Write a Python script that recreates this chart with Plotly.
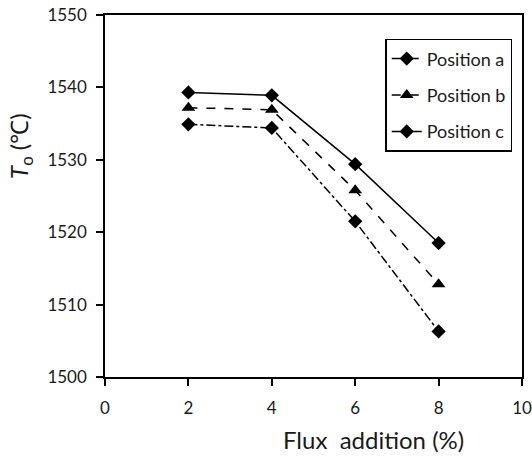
import plotly.graph_objects as go

flux = [2, 4, 6, 8]
pos_a = [1534.9, 1534.4, 1521.5, 1506.3]
pos_b = [1537.2, 1536.9, 1525.8, 1512.8]
pos_c = [1539.3, 1538.9, 1529.4, 1518.5]
names = ["Position a", "Position b", "Position c"]
x_ticks = [0, 2, 4, 6, 8, 10]
y_ticks = [1500, 1510, 1520, 1530, 1540, 1550]

FONT = "Lato"
TXT = "#1a1a1a"
fig = go.Figure()
fig.add_trace(go.Scatter(x=flux, y=pos_a, name=names[0], mode="lines+markers", legendgroup="a",
                         line=dict(color="black", width=1.5, dash="dashdot"),
                         marker=dict(symbol="diamond", size=11, color="black")))
fig.add_trace(go.Scatter(x=flux, y=pos_b, name=names[1], mode="lines+markers", legendgroup="b",
                         line=dict(color="black", width=1.5, dash="dash"),
                         marker=dict(symbol="triangle-up", size=12, color="black")))
fig.add_trace(go.Scatter(x=flux, y=pos_c, name=names[2], mode="lines+markers", legendgroup="c",
                         line=dict(color="black", width=1.5),
                         marker=dict(symbol="diamond", size=11, color="black")))

axis_common = dict(showline=True, linecolor="black", linewidth=1.5, mirror=True,
                   ticks="outside", ticklen=7, tickwidth=1.5, tickcolor="black",
                   showgrid=False, zeroline=False, automargin=False,
                   tickfont=dict(family=FONT, size=17, color=TXT))
fig.update_xaxes(range=[0, 10], tickvals=x_ticks, ticklabelstandoff=8, **axis_common)
fig.update_yaxes(range=[1500, 1550], tickvals=y_ticks, ticklabelstandoff=6, **axis_common)

fig.add_annotation(text="Flux  addition (%)", showarrow=False,
                   xref="paper", yref="paper", x=0.643, y=-0.174,
                   xanchor="center", yanchor="middle",
                   font=dict(family=FONT, size=24, color=TXT))
fig.add_annotation(text="<i>T</i><sub>o</sub> (℃)", textangle=-90, showarrow=False,
                   xref="paper", yref="paper", x=-0.204, y=0.638,
                   xanchor="center", yanchor="middle",
                   font=dict(family=FONT, size=24, color=TXT))

fig.update_layout(
    width=532, height=459,
    margin=dict(l=105, r=10, t=15, b=82),
    plot_bgcolor="white", paper_bgcolor="white",
    legend=dict(x=0.672, y=0.934, xanchor="left", yanchor="top",
                bordercolor="black", borderwidth=1.5, bgcolor="white",
                font=dict(family=FONT, size=18, color=TXT),
                itemwidth=30, tracegroupgap=10),
    showlegend=True,
)
fig.write_html("out.html")
